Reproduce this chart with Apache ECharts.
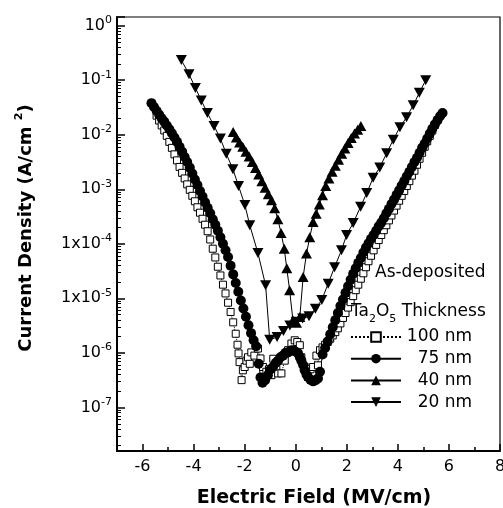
<!DOCTYPE html>
<html>
<head>
<meta charset="utf-8">
<script src="https://cdn.jsdelivr.net/npm/echarts@6/dist/echarts.min.js"></script>
<style>html,body{margin:0;padding:0;background:#fff}#c{width:503px;height:508px}</style>
</head>
<body>
<div id="c"></div>
<script>
// ---- data (Electric Field in MV/cm, Current Density in A/cm^2) ----
const seriesNames = ['100 nm', '75 nm', '40 nm', '20 nm'];

const d100 = [
  [-5.45,2.24e-2],[-5.35,1.82e-2],[-5.25,1.48e-2],[-5.15,1.2e-2],[-5.05,9.55e-3],[-4.95,7.41e-3],
  [-4.85,5.75e-3],[-4.75,4.37e-3],[-4.65,3.39e-3],[-4.55,2.57e-3],[-4.45,2.0e-3],[-4.35,1.58e-3],
  [-4.25,1.23e-3],[-4.15,9.77e-4],[-4.05,7.59e-4],[-3.95,6.03e-4],[-3.85,4.68e-4],[-3.75,3.72e-4],
  [-3.65,2.88e-4],[-3.55,2.24e-4],[-3.45,1.7e-4],[-3.35,1.2e-4],[-3.25,8.13e-5],[-3.15,5.62e-5],
  [-3.05,3.8e-5],[-2.95,2.63e-5],[-2.85,1.78e-5],[-2.75,1.23e-5],[-2.65,8.32e-6],[-2.55,5.62e-6],
  [-2.45,3.63e-6],[-2.35,2.24e-6],[-2.28,1.41e-6],[-2.24,9.77e-7],[-2.2,6.76e-7],[-2.12,3.16e-7],
  [-2.07,4.79e-7],
  [-2.0,5.5e-7],[-1.93,7.2e-7],[-1.87,8.3e-7],[-1.8,6.3e-7],[-1.74,1.02e-6],[-1.62,8.9e-7],
  [-1.48,1.2e-6],[-1.38,7.9e-7],[-1.28,5.5e-7],[-1.15,4.5e-7],[-1.05,5.0e-7],[-0.95,3.9e-7],
  [-0.88,7.8e-7],[-0.76,5.1e-7],[-0.69,4.2e-7],[-0.56,4.2e-7],[-0.43,7.2e-7],[-0.3,1.12e-6],
  [-0.17,1.48e-6],[-0.04,1.7e-6],[0.06,1.58e-6],[0.16,1.38e-6],[0.22,8.3e-7],[0.35,5.5e-7],
  [0.42,4.2e-7],[0.48,3.6e-7],[0.58,5.0e-7],[0.68,5.5e-7],[0.81,8.9e-7],[0.87,5.9e-7],
  [0.95,1.12e-6],[1.05,1.26e-6],[1.15,1.41e-6],[1.25,1.58e-6],[1.35,1.82e-6],[1.45,2.09e-6],
  [1.55,2.4e-6],[1.65,2.82e-6],[1.75,3.47e-6],[1.85,4.37e-6],[1.95,5.37e-6],[2.05,6.76e-6],
  [2.15,8.51e-6],[2.25,1.1e-5],[2.35,1.41e-5],[2.45,1.78e-5],[2.55,2.29e-5],[2.65,2.88e-5],
  [2.75,3.72e-5],[2.85,4.79e-5],[2.95,6.03e-5],[3.05,7.59e-5],[3.15,9.55e-5],[3.25,1.17e-4],
  [3.35,1.45e-4],[3.45,1.78e-4],[3.55,2.19e-4],[3.65,2.69e-4],[3.75,3.31e-4],[3.85,4.07e-4],
  [3.95,5.01e-4],[4.05,6.17e-4],[4.15,7.59e-4],[4.25,9.33e-4],[4.35,1.15e-3],[4.45,1.41e-3],
  [4.55,1.78e-3],[4.65,2.19e-3],[4.75,2.82e-3],[4.85,3.63e-3],[4.95,4.68e-3],[5.05,6.03e-3],
  [5.15,7.59e-3],[5.25,9.55e-3],[5.35,1.2e-2],[5.45,1.51e-2],[5.55,1.86e-2]
];

const d75 = [
  [-5.65,3.8e-2],[-5.55,3.24e-2],[-5.45,2.75e-2],[-5.35,2.34e-2],[-5.25,2.0e-2],[-5.15,1.74e-2],
  [-5.05,1.48e-2],[-4.95,1.26e-2],[-4.85,1.07e-2],[-4.75,8.9e-3],[-4.65,7.4e-3],[-4.55,6.0e-3],
  [-4.45,4.9e-3],[-4.35,3.9e-3],[-4.25,3.16e-3],[-4.15,2.5e-3],[-4.05,1.95e-3],[-3.95,1.51e-3],
  [-3.85,1.2e-3],[-3.75,9.3e-4],[-3.65,7.4e-4],[-3.55,5.75e-4],[-3.45,4.57e-4],[-3.35,3.63e-4],
  [-3.25,2.82e-4],[-3.15,2.24e-4],[-3.05,1.74e-4],[-2.95,1.32e-4],[-2.85,1.0e-4],[-2.75,7.6e-5],
  [-2.65,5.75e-5],[-2.55,3.98e-5],[-2.45,2.75e-5],[-2.35,1.91e-5],[-2.25,1.32e-5],[-2.15,9.1e-6],
  [-2.05,6.5e-6],[-1.95,4.6e-6],[-1.85,3.2e-6],[-1.75,2.3e-6],[-1.65,1.7e-6],[-1.55,1.32e-6],
  [-1.45,6.3e-7],[-1.38,3.55e-7],[-1.3,2.82e-7],[-1.2,3.16e-7],[-1.09,3.9e-7],[-0.98,5.0e-7],
  [-0.89,5.5e-7],[-0.78,6.6e-7],[-0.69,7.2e-7],[-0.6,8.3e-7],[-0.5,8.9e-7],[-0.4,1.0e-6],
  [-0.3,1.02e-6],[-0.2,1.1e-6],[-0.11,1.12e-6],[0.0,1.05e-6],[0.09,9.8e-7],[0.16,8.3e-7],
  [0.22,7.2e-7],[0.29,6.0e-7],[0.35,4.8e-7],[0.42,4.0e-7],[0.48,3.6e-7],[0.58,3.2e-7],
  [0.68,3.0e-7],[0.78,3.16e-7],[0.87,3.4e-7],[0.95,4.5e-7],
  [1.05,9.3e-7],[1.15,1.23e-6],[1.25,1.62e-6],[1.35,2.19e-6],[1.45,2.95e-6],[1.55,3.98e-6],
  [1.65,5.37e-6],[1.75,7.24e-6],[1.85,9.55e-6],[1.95,1.26e-5],[2.05,1.66e-5],[2.15,2.19e-5],
  [2.25,2.82e-5],[2.35,3.55e-5],[2.45,4.47e-5],[2.55,5.5e-5],[2.65,6.92e-5],[2.75,8.51e-5],
  [2.85,1.02e-4],[2.95,1.23e-4],[3.05,1.45e-4],[3.15,1.74e-4],[3.25,2.09e-4],[3.35,2.45e-4],
  [3.45,2.95e-4],[3.55,3.63e-4],[3.65,4.37e-4],[3.75,5.37e-4],[3.85,6.46e-4],[3.95,7.94e-4],
  [4.05,9.55e-4],[4.15,1.17e-3],[4.25,1.41e-3],[4.35,1.74e-3],[4.45,2.09e-3],[4.55,2.57e-3],
  [4.65,3.16e-3],[4.75,3.8e-3],[4.85,4.68e-3],[4.95,5.75e-3],[5.05,6.92e-3],[5.15,8.51e-3],
  [5.25,1.05e-2],[5.35,1.29e-2],[5.45,1.55e-2],[5.55,1.82e-2],[5.65,2.19e-2],[5.75,2.51e-2]
];

const d40 = [
  [-2.45,1.12e-2],[-2.325,8.91e-3],[-2.2,7.24e-3],[-2.075,6.03e-3],[-1.95,4.9e-3],[-1.825,3.98e-3],
  [-1.7,3.16e-3],[-1.575,2.45e-3],[-1.45,1.86e-3],[-1.325,1.41e-3],[-1.2,1.07e-3],[-1.075,8.13e-4],
  [-0.95,6.31e-4],[-0.825,4.47e-4],[-0.7,2.82e-4],[-0.575,1.58e-4],[-0.45,8.13e-5],[-0.35,3.55e-5],
  [-0.24,1.41e-5],[-0.11,3.98e-6],[0.03,3.55e-6],[0.16,4.57e-6],[0.29,2.45e-5],[0.42,6.61e-5],
  [0.55,1.32e-4],[0.68,2.51e-4],[0.8,3.55e-4],[0.925,5.25e-4],[1.05,7.76e-4],[1.175,1.15e-3],
  [1.3,1.58e-3],[1.425,2.09e-3],[1.55,2.69e-3],[1.675,3.47e-3],[1.8,4.47e-3],[1.925,5.62e-3],
  [2.05,7.08e-3],[2.175,8.71e-3],[2.3,1.05e-2],[2.425,1.23e-2],[2.55,1.45e-2]
];

const d20 = [
  [-4.48,2.34e-1],[-4.18,1.29e-1],[-3.93,7.24e-2],[-3.7,4.27e-2],[-3.46,2.51e-2],[-3.2,1.45e-2],
  [-2.95,8.51e-3],[-2.72,4.47e-3],[-2.46,2.34e-3],[-2.24,1.15e-3],[-1.99,5.13e-4],[-1.8,2.19e-4],
  [-1.48,6.76e-5],[-1.18,1.74e-5],[-1.02,1.74e-6],[-0.73,1.95e-6],[-0.48,2.51e-6],[-0.23,3.16e-6],
  [0.02,3.72e-6],[0.27,4.27e-6],[0.52,4.68e-6],[0.77,6.46e-6],[1.02,9.33e-6],[1.27,1.86e-5],
  [1.52,3.72e-5],[1.79,7.59e-5],[1.99,1.45e-4],[2.25,2.4e-4],[2.54,4.79e-4],[2.78,8.51e-4],
  [3.03,1.62e-3],[3.29,2.51e-3],[3.56,4.57e-3],[3.82,8.13e-3],[4.08,1.38e-2],[4.34,2.09e-2],
  [4.6,3.47e-2],[4.84,5.89e-2],[5.09,1.0e-1]
];

// axis tick labels
const xTickLabels = [-6, -4, -2, 0, 2, 4, 6, 8];
const yTickExponents = [0, -1, -2, -3, -4, -5, -6, -7];
const yTickPrefixes = ['', '', '', '', '1x', '1x', '', ''];

const X_MIN = -7, X_MAX = 8;
const Y_MIN = 1.585e-8, Y_MAX = 1.445;

// minor log ticks (2..9 x 10^n), in exponent units for an overlaid helper axis
const minorLog = [];
for (let n = -8; n <= 0; n++) {
  for (let k = 2; k <= 9; k++) {
    const v = Math.log10(k) + n;
    if (v > Math.log10(Y_MIN) && v < Math.log10(Y_MAX)) minorLog.push(v);
  }
}

const FONT = 'DejaVu Sans';
const chart = echarts.init(document.getElementById('c'), null, {renderer: 'canvas'});

function yLabel(v) {
  const e = Math.log10(v);
  const r = Math.round(e);
  if (Math.abs(e - r) > 1e-6) return '';
  const i = yTickExponents.indexOf(r);
  if (i < 0) return '';
  return '{b|' + yTickPrefixes[i] + '10}{s|' + r + '}';
}

const common = {
  type: 'line',
  showAllSymbol: true,
  animation: false,
  lineStyle: {color: '#000', width: 1},
  itemStyle: {color: '#000'},
  emphasis: {disabled: true}
};

chart.setOption({
  animation: false,
  backgroundColor: '#fff',
  grid: {left: 117, right: 3, top: 17, bottom: 57, show: true, borderColor: '#000', borderWidth: 1.2,
         containLabel: false, outerBoundsMode: 'none'},
  title: [
    {text: 'As-deposited', left: 375, top: 263, padding: 0,
     textStyle: {fontFamily: FONT, fontSize: 17, fontWeight: 'normal', color: '#000', lineHeight: 20}},
    {text: '{n|Ta}{s|2}{n|O}{s|5}{n| Thickness}', left: 351, top: 299, padding: 0,
     textStyle: {fontFamily: FONT, fontSize: 17, fontWeight: 'normal', color: '#000',
       rich: {
         n: {fontFamily: FONT, fontSize: 17, color: '#000', lineHeight: 26, verticalAlign: 'middle'},
         s: {fontFamily: FONT, fontSize: 11, color: '#000', lineHeight: 11, verticalAlign: 'bottom'}
       }}}
  ],
  legend: {
    orient: 'vertical', left: 350, top: 328.5, padding: 0,
    itemWidth: 50, itemHeight: 12, itemGap: 4.7,
    data: seriesNames,
    formatter: n => '{r|' + n + '}',
    textStyle: {fontFamily: FONT, fontSize: 17, color: '#000',
      rich: {r: {fontFamily: FONT, fontSize: 17, color: '#000', width: 66, align: 'right', lineHeight: 12}}}
  },
  xAxis: [
    {type: 'value', min: X_MIN, max: X_MAX, interval: 1, position: 'bottom',
     axisLine: {onZero: false, lineStyle: {color: '#000', width: 2}},
     axisTick: {inside: true, length: 4, lineStyle: {color: '#000', width: 1.5}},
     axisLabel: {margin: 8, fontFamily: FONT, fontSize: 16, color: '#000',
       formatter: v => (xTickLabels.indexOf(v) >= 0 ? String(v) : '')},
     splitLine: {show: false},
     name: 'Electric Field (MV/cm)', nameLocation: 'middle', nameGap: 38,
     nameTextStyle: {fontFamily: FONT, fontWeight: 'bold', fontSize: 19, color: '#000', padding: [0, 0, 0, 11]}},
    {type: 'value', min: X_MIN, max: X_MAX, position: 'bottom',
     axisLine: {show: false, onZero: false}, axisLabel: {show: false}, splitLine: {show: false},
     axisTick: {inside: true, length: 7, customValues: xTickLabels, lineStyle: {color: '#000', width: 1.5}}}
  ],
  yAxis: [
    {type: 'log', logBase: 10, min: Y_MIN, max: Y_MAX, position: 'left',
     axisLine: {onZero: false, lineStyle: {color: '#000', width: 2}},
     axisTick: {inside: true, length: 8, lineStyle: {color: '#000', width: 1.5}},
     axisLabel: {margin: 5, formatter: yLabel, color: '#000',
       rich: {
         b: {fontFamily: FONT, fontSize: 16, color: '#000', lineHeight: 22, verticalAlign: 'middle'},
         s: {fontFamily: FONT, fontSize: 11, color: '#000', lineHeight: 12, verticalAlign: 'top'}
       }},
     splitLine: {show: false},
     name: '{n|Current Density (A/cm }{s|2}{n|)}', nameLocation: 'middle', nameGap: 79, nameRotate: 90,
     nameTextStyle: {fontFamily: FONT, fontWeight: 'bold', fontSize: 18, color: '#000', padding: [0, 0, 0, 12],
       rich: {
         n: {fontFamily: FONT, fontWeight: 'bold', fontSize: 18, color: '#000', lineHeight: 24, verticalAlign: 'middle'},
         s: {fontFamily: FONT, fontWeight: 'bold', fontSize: 11, color: '#000', lineHeight: 16, verticalAlign: 'top'}
       }}},
    {type: 'value', min: Math.log10(Y_MIN), max: Math.log10(Y_MAX), position: 'left',
     axisLine: {show: false, onZero: false}, axisLabel: {show: false}, splitLine: {show: false},
     axisTick: {inside: true, length: 4, customValues: minorLog, lineStyle: {color: '#000', width: 1}}}
  ],
  series: [
    Object.assign({}, common, {name: '100 nm', data: d100, symbol: 'rect', symbolSize: 7,
      lineStyle: {color: '#000', width: 1, type: 'dotted'},
      itemStyle: {color: '#fff', borderColor: '#000', borderWidth: 1}}),
    Object.assign({}, common, {name: '75 nm', data: d75, symbol: 'circle', symbolSize: 10}),
    Object.assign({}, common, {name: '40 nm', data: d40, symbol: 'triangle', symbolSize: [11, 10]}),
    Object.assign({}, common, {name: '20 nm', data: d20, symbol: 'triangle', symbolSize: [11, 10], symbolRotate: 180})
  ]
});
</script>
</body>
</html>
